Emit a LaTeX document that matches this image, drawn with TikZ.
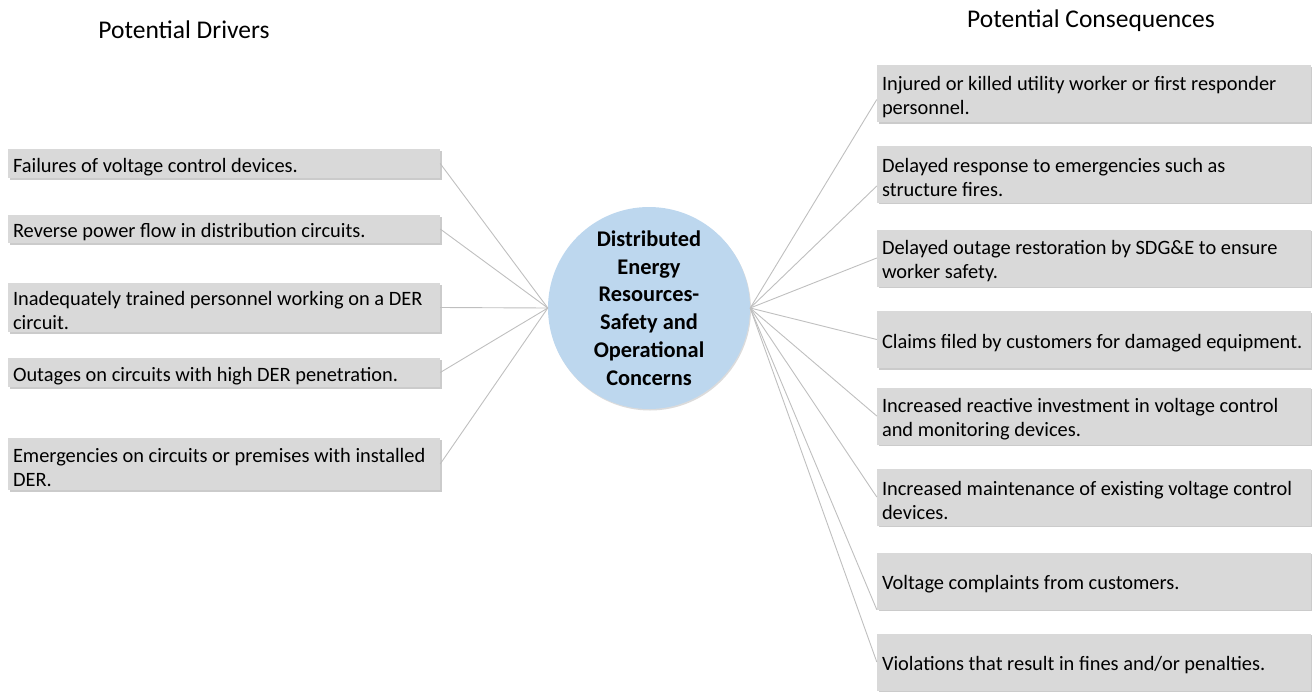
\documentclass[tikz,border=0pt]{standalone}
\usepackage{fontspec}
\setmainfont{Carlito}
\usetikzlibrary{shadows}
\definecolor{boxgray}{RGB}{217,217,217}
\definecolor{hubblue}{RGB}{189,215,238}
\definecolor{linegray}{RGB}{191,191,191}
\tikzset{
	driver/.style={fill=boxgray, text width=422pt, inner xsep=5pt, inner ysep=0pt, align=flush left,
		font=\fontsize{20.4}{24}\selectfont, execute at begin node={\rule{0pt}{21pt}},
		drop shadow={shadow xshift=1.5pt, shadow yshift=-1.5pt, fill=black!45, opacity=0.45}},
	consequence/.style={driver, text width=424pt},
	hub/.style={circle, fill=hubblue, minimum size=202pt, inner sep=0pt, align=center,
		font=\fontsize{22.4}{27.8}\selectfont\bfseries, drop shadow={shadow xshift=1pt, shadow yshift=-1.5pt, fill=black!35, opacity=0.4}},
	heading/.style={font=\fontsize{25.5}{30}\selectfont, inner sep=0pt},
	link/.style={draw=linegray, line width=0.9pt}
}

\begin{document}
\begin{tikzpicture}[x=1pt, y=-1pt]
			%%%%% START %%%%%
			\useasboundingbox (0, 0) rectangle (1312, 691);
			
			\node[heading] (drivers) at (184, 30) {Potential Drivers};
			\node[heading] (consequences) at (1091, 21) {Potential Consequences};
			
			\node[hub] (hub) at (649, 308) {Distributed\\Energy\\Resources-\\Safety and\\Operational\\Concerns};
			
			% drivers
			\node[driver, minimum height=29pt] (d1) at (224, 163.5) {Failures of voltage control devices.};
			\node[driver, minimum height=28pt] (d2) at (224, 229) {Reverse power flow in distribution circuits.};
			\node[driver, minimum height=49pt] (d3) at (224, 307.5) {Inadequately trained personnel working on a DER\\circuit.};
			\node[driver, minimum height=29pt] (d4) at (224, 372.5) {Outages on circuits with high DER penetration.};
			\node[driver, minimum height=52pt] (d5) at (224, 464) {Emergencies on circuits or premises with installed\\DER.};
			
			% consequences
			\node[consequence, minimum height=57pt] (c1) at (1094, 93.5) {Injured or killed utility worker or first responder\\personnel.};
			\node[consequence, minimum height=57pt] (c2) at (1094, 174) {Delayed response to emergencies such as\\structure fires.};
			\node[consequence, minimum height=57pt] (c3) at (1094, 258) {Delayed outage restoration by SDG\&E to ensure\\worker safety.};
			\node[consequence, minimum height=57pt] (c4) at (1094, 339.5) {Claims filed by customers for damaged equipment.};
			\node[consequence, minimum height=57pt] (c5) at (1094, 416) {Increased reactive investment in voltage control\\and monitoring devices.};
			\node[consequence, minimum height=57pt] (c6) at (1094, 497) {Increased maintenance of existing voltage control\\devices.};
			\node[consequence, minimum height=57pt] (c7) at (1094, 581) {Voltage complaints from customers.};
			\node[consequence, minimum height=57pt] (c8) at (1094, 662) {Violations that result in fines and/or penalties.};
			
			\foreach \d in {d1, d2, d3, d4, d5}
				\draw[link] (\d.east) -- (hub.west);
			
			\draw[link] (hub.east) -- ([yshift=-6pt]c1.west);
			\draw[link] (hub.east) -- ([yshift=-12pt]c2.west);
			\foreach \c in {c3, c4, c5, c6}
				\draw[link] (hub.east) -- (\c.west);
			\draw[link] (hub.east) -- (c7.south west);
			\draw[link] (hub.east) -- (c8.west);
			
			%%%%% END %%%%%
\end{tikzpicture}
\end{document}
